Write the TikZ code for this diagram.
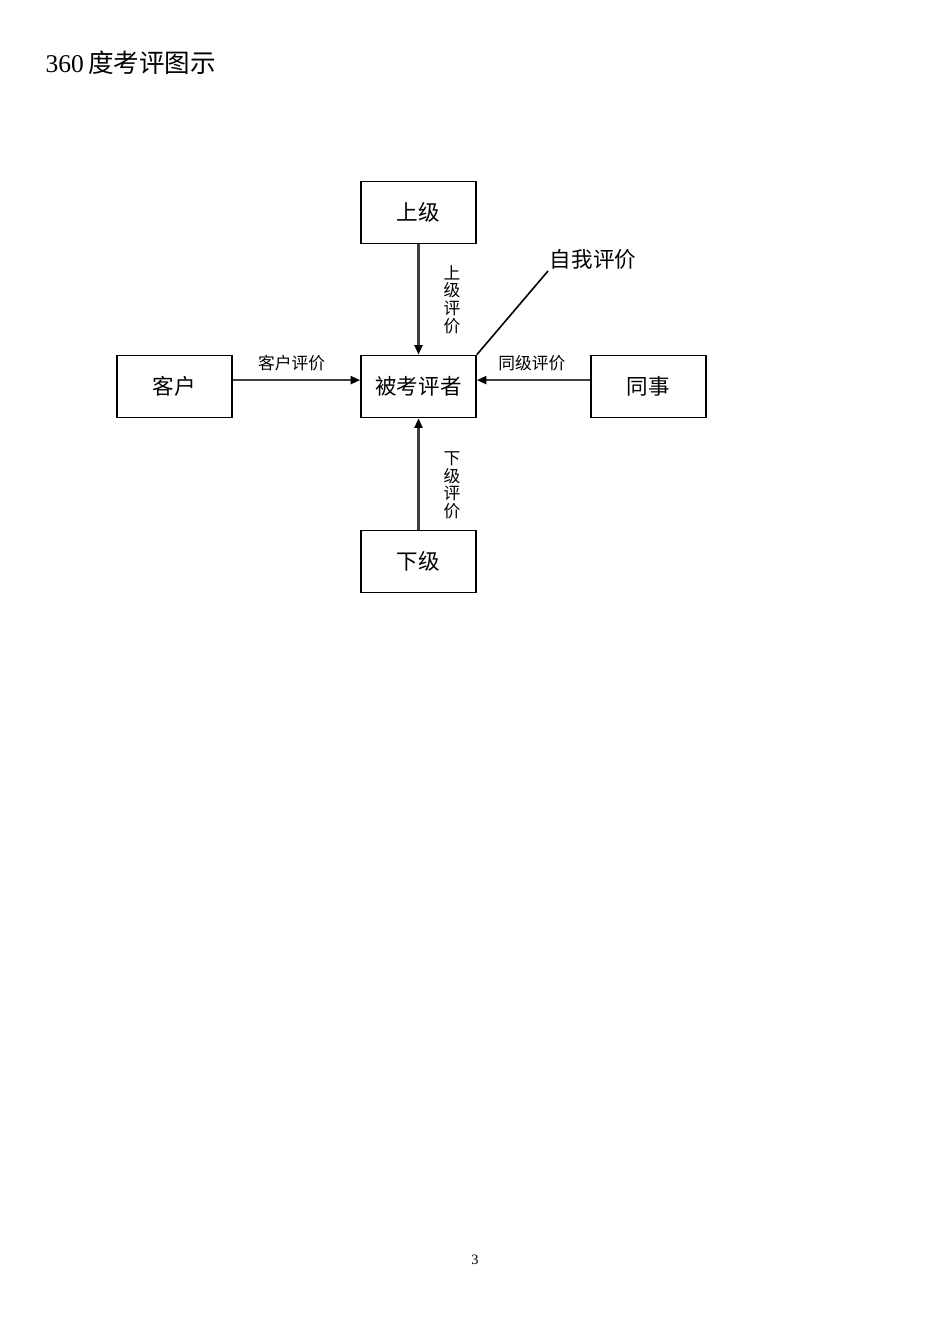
\documentclass[tikz,border=0pt]{standalone}
\usepackage{fontspec}
\setmainfont{Liberation Serif}
\newfontfamily\cjk{Noto Sans CJK SC}
\usepackage{tikz}
\usetikzlibrary{arrows.meta}

\begin{document}
\begin{tikzpicture}[x=0.6265pt, y=-0.6265pt]
      \useasboundingbox (0,0) rectangle (950,1344);
      \node at (40,63) [anchor=west] {\fontsize{16}{18}\selectfont 360\,{\cjk 度考评图示}};
      \tikzstyle {person} = [shape=rectangle, draw=black, line width=1.1pt, minimum width=72pt, minimum height=38.8pt, font=\cjk\fontsize{13.5}{15}\selectfont];
      \tikzstyle {pingjia} = [draw=black!75, line width=1.4pt, -{Triangle[black, length=6pt, width=5pt]}];
      \tikzstyle {small} = [font=\cjk\fontsize{10.5}{11}\selectfont, inner sep=1pt];
      \node (bei) [person] at (418.5,386.5) {被考评者};
      \node (shang) [person] at (418.5,212.5) {上级};
      \node (kehu) [person] at (174.5,386.5) {客户};
      \node (tong) [person] at (648.5,386.5) {同事};
      \node (xia) [person] at (418.5,561.5) {下级};
      \node (ziwo) [anchor=south west, inner sep=1pt, font=\cjk\fontsize{13.5}{15}\selectfont] at (548,271) {自我评价};
      \draw [pingjia] (shang) -- (bei) node [midway, small, xshift=21pt, align=center] {上\\级\\评\\价};
      \draw [pingjia] (xia) -- (bei) node [pos=0.4, small, xshift=21pt, align=center] {下\\级\\评\\价};
      \draw [pingjia] ([yshift=4pt]kehu.east) -- ([yshift=4pt]bei.west) node [midway, small, above=3.8pt, xshift=-3pt] {客户评价};
      \draw [pingjia] ([yshift=4pt]tong.west) -- ([yshift=4pt]bei.east) node [midway, small, above=3.8pt, xshift=-1pt] {同级评价};
      \draw [line width=1pt] (bei.north east) -- (ziwo.south west);
      \node at (475,1260) {\fontsize{9}{10}\selectfont 3};
    \end{tikzpicture}
\end{document}
